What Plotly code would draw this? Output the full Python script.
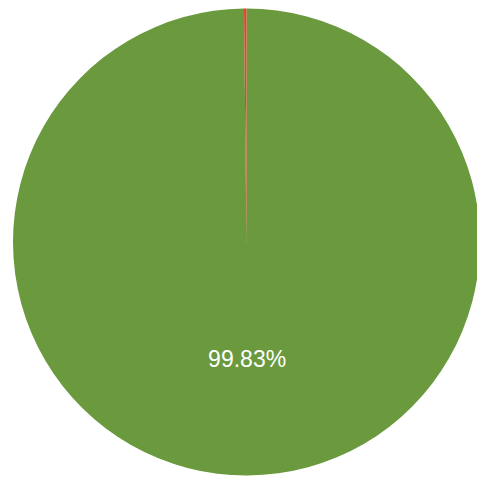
import plotly.graph_objects as go

labels = ["Green", "Red"]
values = [99.83, 0.17]
text_labels = ["99.83%", ""]
colors = ["#6a993e", "#d9472b"]

# page body has an 8px default margin, so the figure is drawn at (8, 8)
W, H = 477, 472
fig = go.Figure(go.Pie(
    labels=labels,
    values=values,
    text=text_labels,
    textinfo="text",
    textposition="inside",
    insidetextorientation="horizontal",
    textfont=dict(family="Liberation Sans, Arial, sans-serif", size=23, color="white"),
    marker=dict(colors=colors, line=dict(width=0)),
    sort=False,
    direction="counterclockwise",
    rotation=0,
    domain=dict(x=[5 / W, 472 / W], y=[(H - 468) / H, 1.0]),
    showlegend=False,
    hoverinfo="none",
))
fig.update_layout(
    width=W, height=H,
    margin=dict(l=0, r=0, t=0, b=0),
    paper_bgcolor="white",
    plot_bgcolor="white",
)
fig.write_html("out.html")
